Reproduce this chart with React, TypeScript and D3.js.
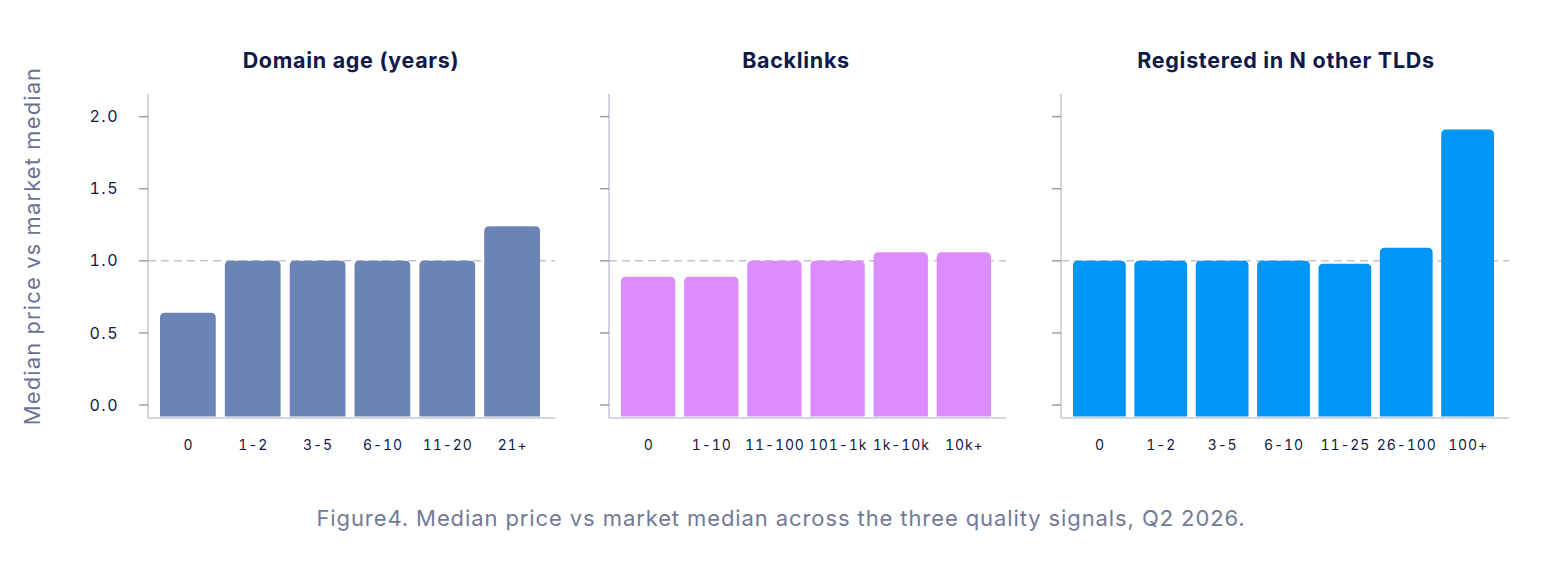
import * as d3 from "d3";
import React, { useRef, useEffect } from "react";

const width = 1560;
const height = 570;

const domainAgeLabels = ["0", "1-2", "3-5", "6-10", "11-20", "21+"];
const domainAgeValues = [0.64, 1.0, 1.0, 1.0, 1.0, 1.24];

const backlinkLabels = ["0", "1-10", "11-100", "101-1k", "1k-10k", "10k+"];
const backlinkValues = [0.89, 0.89, 1.0, 1.0, 1.06, 1.06];

const tldLabels = ["0", "1-2", "3-5", "6-10", "11-25", "26-100", "100+"];
const tldValues = [1.0, 1.0, 1.0, 1.0, 0.98, 1.09, 1.91];

const yTicks = [0, 0.5, 1.0, 1.5, 2.0];
const referenceValue = 1.0;

const panels = [
	{ title: "Domain age (years)", labels: domainAgeLabels, values: domainAgeValues, color: "#6b83b5", x0: 148, x1: 555, titleX: 351 },
	{ title: "Backlinks", labels: backlinkLabels, values: backlinkValues, color: "#dc8cfc", x0: 609, x1: 1006, titleX: 796 },
	{ title: "Registered in N other TLDs", labels: tldLabels, values: tldValues, color: "#0096f5", x0: 1061, x1: 1509, titleX: 1286 },
];

const plotTop = 95;
const plotBottom = 418;
const navy = "#0f1a48";
const axisColor = "#c4c7d4";
const tickColor = "#9a9db2";
const font = "Inter, 'Noto Sans', sans-serif";

// rounded top corners only
const topRoundedRect = (x: number, y: number, w: number, h: number, r: number) => {
	const rr = Math.min(r, w / 2, h);
	return `M${x},${y + h}V${y + rr}Q${x},${y} ${x + rr},${y}H${x + w - rr}Q${x + w},${y} ${x + w},${y + rr}V${y + h}Z`;
};

const App = () => {
	const d3Container = useRef(null);

	useEffect(() => {
		if (!d3Container.current) return;
		const svg = d3.select(d3Container.current);
		svg.selectAll("*").remove();

		const yScale = d3.scaleLinear().domain([-0.09, 2.15]).range([plotBottom, plotTop]);

		panels.forEach((panel, pi) => {
			const g = svg.append("g");
			const xScale = d3
				.scaleBand()
				.domain(panel.labels)
				.range([panel.x0 + 12, panel.x1 - 15])
				.paddingInner(0.14)
				.paddingOuter(0);

			// reference line
			g.append("line")
				.attr("x1", panel.x0)
				.attr("x2", panel.x1)
				.attr("y1", yScale(referenceValue))
				.attr("y2", yScale(referenceValue))
				.attr("stroke", "#c3c6d2")
				.attr("stroke-width", 1.5)
				.attr("stroke-dasharray", "8 5");

			// bars
			g.selectAll(".bar")
				.data(panel.values)
				.enter()
				.append("path")
				.attr("class", "bar")
				.attr("fill", panel.color)
				.attr("d", (d: number, i: number) => {
					const x = xScale(panel.labels[i]) as number;
					const top = yScale(d);
					const bottom = yScale(yScale.domain()[0]) - 1.5;
					return topRoundedRect(x, top, xScale.bandwidth(), bottom - top, 5);
				});

			// y axis line
			g.append("line")
				.attr("x1", panel.x0)
				.attr("x2", panel.x0)
				.attr("y1", plotTop - 1)
				.attr("y2", plotBottom)
				.attr("stroke", axisColor)
				.attr("stroke-width", 1.5);

			// x axis line
			g.append("line")
				.attr("x1", panel.x0)
				.attr("x2", panel.x1)
				.attr("y1", plotBottom)
				.attr("y2", plotBottom)
				.attr("stroke", axisColor)
				.attr("stroke-width", 1.5);

			// y ticks
			g.selectAll(".ytick")
				.data(yTicks)
				.enter()
				.append("line")
				.attr("x1", panel.x0 - 9)
				.attr("x2", panel.x0)
				.attr("y1", (d: number) => yScale(d))
				.attr("y2", (d: number) => yScale(d))
				.attr("stroke", tickColor)
				.attr("stroke-width", 1.5);

			if (pi === 0) {
				g.selectAll(".ylabel")
					.data(yTicks)
					.enter()
					.append("text")
					.attr("x", panel.x0 - 29)
					.attr("y", (d: number) => yScale(d))
					.attr("dy", "0.35em")
					.attr("text-anchor", "end")
					.attr("font-family", font)
					.attr("font-size", 16)
					.attr("letter-spacing", 1.5)
					.style("font-feature-settings", "'tnum'")
					.attr("fill", navy)
					.text((d: number) => d.toFixed(1));
			}

			// x labels
			g.selectAll(".xlabel")
				.data(panel.labels)
				.enter()
				.append("text")
				.attr("x", (d: string) => (xScale(d) as number) + xScale.bandwidth() / 2 + 0.5)
				.attr("y", 450)
				.attr("text-anchor", "middle")
				.attr("font-family", font)
				.attr("font-size", 14)
				.attr("letter-spacing", 0.9)
				.style("font-feature-settings", "'tnum'")
				.attr("fill", navy)
				.text((d: string) => d);

			// title
			g.append("text")
				.attr("x", panel.titleX)
				.attr("y", 68)
				.attr("text-anchor", "middle")
				.attr("font-family", font)
				.attr("font-size", 21.5)
				.attr("letter-spacing", 0.7)
				.attr("font-weight", "bold")
				.attr("fill", navy)
				.text(panel.title);
		});

		// y axis title
		svg.append("text")
			.attr("transform", `translate(40, 246) rotate(-90)`)
			.attr("text-anchor", "middle")
			.attr("font-family", font)
			.attr("font-size", 22)
			.attr("letter-spacing", 1.1)
			.attr("fill", "#6b7394")
			.text("Median price vs market median");

		// caption
		svg.append("text")
			.attr("x", 781)
			.attr("y", 526)
			.attr("text-anchor", "middle")
			.attr("font-family", font)
			.attr("font-size", 22)
			.attr("letter-spacing", 0.9)
			.attr("fill", "#737a97")
			.text("Figure4. Median price vs market median across the three quality signals, Q2 2026.");
	}, [d3Container.current]);

	return (
		<svg
			width={width}
			height={height}
			style={{ position: "absolute", left: 0, top: 0, backgroundColor: "white" }}
			ref={d3Container}
		/>
	);
};

export default App;
